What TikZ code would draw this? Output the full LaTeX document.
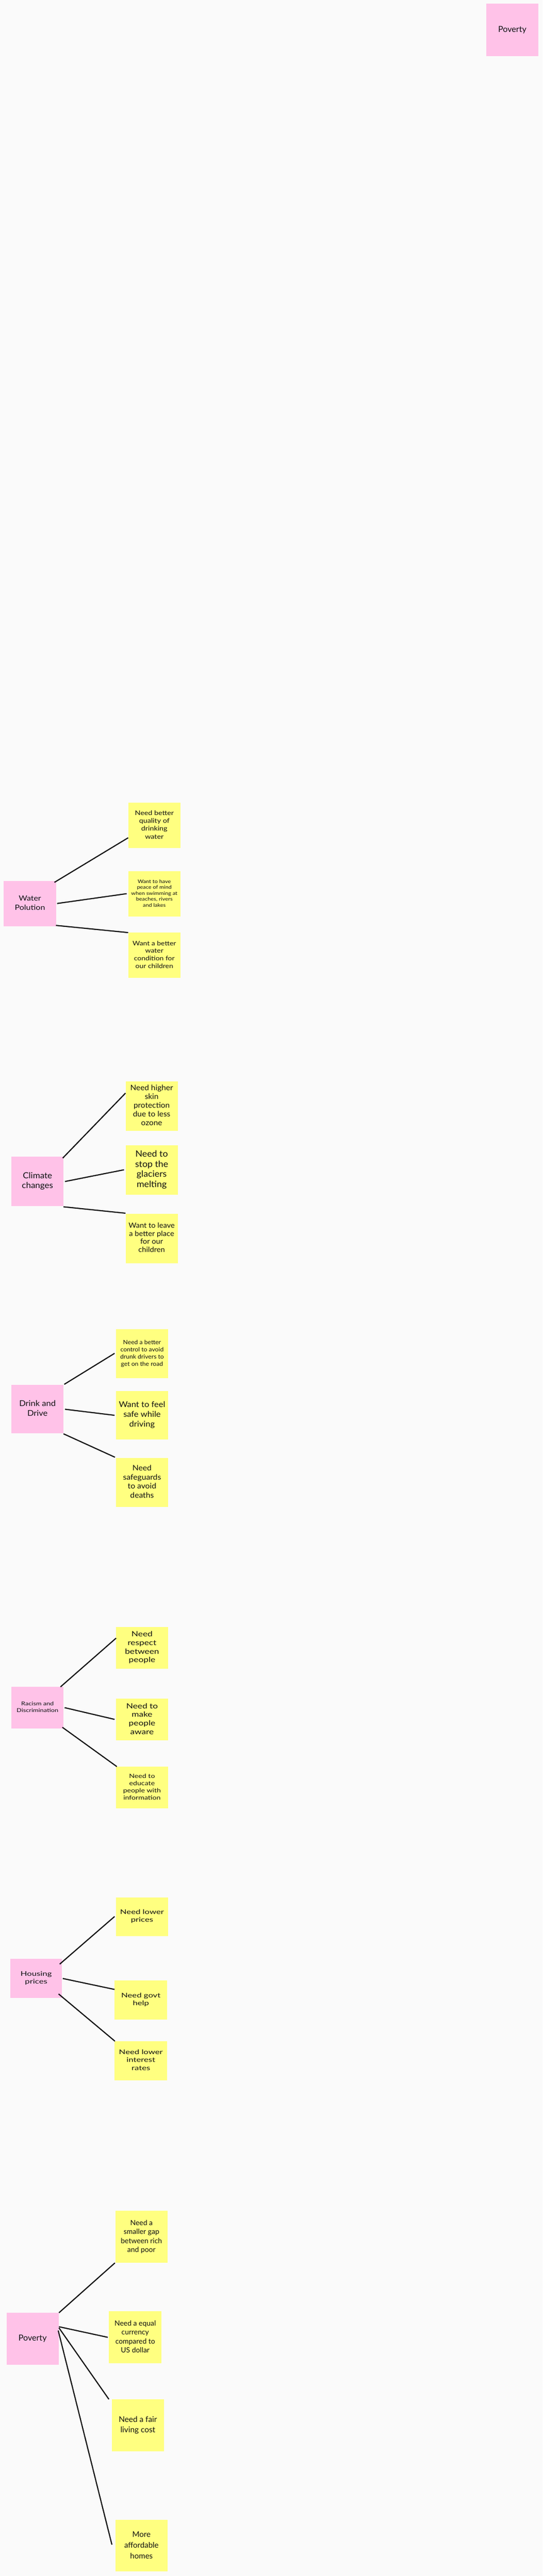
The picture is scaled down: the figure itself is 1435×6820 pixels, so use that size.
\documentclass[tikz,border=0pt]{standalone}
\usepackage{fontspec}
\usepackage{graphicx}
\setmainfont{Lato}
\usetikzlibrary{calc}
\definecolor{bgc}{HTML}{FAFAFA}
\definecolor{pinkc}{HTML}{FFC2E8}
\definecolor{yelc}{HTML}{FFFF80}
\definecolor{inkc}{HTML}{111111}
\newcommand{\myfs}[2]{\fontsize{#1pt}{#2pt}\selectfont}
\newcommand{\sqtext}[2]{\scalebox{1}[#1]{\begin{tabular}{@{}c@{}}#2\end{tabular}}}
\begin{document}
\begin{tikzpicture}[x=1pt,y=-1pt,
  sticky/.style={inner sep=0pt, anchor=north west, align=center, text=inkc},
  pinkbox/.style={sticky, fill=pinkc},
  yelbox/.style={sticky, fill=yelc},
  conn/.style={line width=3pt, draw=inkc}]
\fill[bgc] (0,0) rectangle (1435,6820);
\useasboundingbox (0,0) rectangle (1435,6820);

% top
\node[pinkbox, minimum width=138pt, minimum height=138pt, font=\myfs{22}{27}] (povtop) at (1286,10) {\sqtext{1}{Poverty}};

% Water Polution (s = 0.87)
\node[pinkbox, minimum width=138pt, minimum height=120pt, font=\myfs{21.8}{27.6}] (wp) at (10,2332) {\sqtext{0.87}{Water\\Polution}};
\node[yelbox, minimum width=138pt, minimum height=120pt, font=\myfs{19.5}{24.1}] (w1) at (339,2125) {\sqtext{0.87}{Need better\\quality of\\drinking\\water}};
\node[yelbox, minimum width=138pt, minimum height=120pt, font=\myfs{14.9}{18}] (w2) at (339,2306) {\sqtext{0.87}{Want to have\\peace of mind\\when swimming at\\beaches, rivers\\and lakes}};
\node[yelbox, minimum width=138pt, minimum height=120pt, font=\myfs{19}{23}] (w3) at (339,2469) {\sqtext{0.87}{Want a better\\water\\condition for\\our children}};
\draw[conn] ($(wp.north west)+(134,4)$) -- ($(w1.north west)+(0,93)$);
\draw[conn] ($(wp.north west)+(141,60)$) -- ($(w2.north west)+(-4,60)$);
\draw[conn] ($(wp.north west)+(138,118)$) -- ($(w3.north west)+(0,0)$);

% Climate changes (s = 0.95)
\node[pinkbox, minimum width=138pt, minimum height=131pt, font=\myfs{23.2}{28.4}] (cc) at (30,3062) {\sqtext{0.95}{Climate\\changes}};
\node[yelbox, minimum width=138pt, minimum height=131pt, font=\myfs{21}{24.5}] (c1) at (332,2863) {\sqtext{0.95}{Need higher\\skin\\protection\\due to less\\ozone}};
\node[yelbox, minimum width=138pt, minimum height=131pt, font=\myfs{24.2}{28.4}] (c2) at (332,3032) {\sqtext{0.95}{Need to\\stop the\\glaciers\\melting}};
\node[yelbox, minimum width=138pt, minimum height=131pt, font=\myfs{20}{22.8}] (c3) at (332,3213) {\sqtext{0.95}{Want to leave\\a better place\\for our\\children}};
\draw[conn] ($(cc.north west)+(136,4)$) -- ($(c1.north west)+(0,31)$);
\draw[conn] ($(cc.north west)+(142,66)$) -- ($(c2.north west)+(-4,65)$);
\draw[conn] ($(cc.north west)+(138,133)$) -- ($(c3.north west)+(0,-1)$);

% Drink and Drive (s = 0.935)
\node[pinkbox, minimum width=138pt, minimum height=129pt, font=\myfs{22.5}{27.8}] (dd) at (30,3666) {\sqtext{0.935}{Drink and\\Drive}};
\node[yelbox, minimum width=137pt, minimum height=129pt, font=\myfs{16.6}{20.3}] (d1) at (307,3519) {\sqtext{0.935}{Need a better\\control to avoid\\drunk drivers to\\get on the road}};
\node[yelbox, minimum width=137pt, minimum height=129pt, font=\myfs{22.5}{27.8}] (d2) at (307,3682) {\sqtext{0.935}{Want to feel\\safe while\\driving}};
\node[yelbox, minimum width=137pt, minimum height=129pt, font=\myfs{21.4}{26}] (d3) at (307,3860) {\sqtext{0.935}{Need\\safeguards\\to avoid\\deaths}};
\draw[conn] ($(dd.north west)+(140,-1)$) -- ($(d1.north west)+(-4,64)$);
\draw[conn] ($(dd.north west)+(142,65)$) -- ($(d2.north west)+(-4,65)$);
\draw[conn] ($(dd.north west)+(138,130)$) -- ($(d3.north west)+(-3,-2)$);

% Racism and Discrimination (s = 0.804)
\node[pinkbox, minimum width=138pt, minimum height=111pt, font=\myfs{17.4}{21.5}] (rd) at (30,4465) {\sqtext{0.804}{Racism and\\Discrimination}};
\node[yelbox, minimum width=137pt, minimum height=111pt, font=\myfs{23.6}{28.2}] (r1) at (307,4307) {\sqtext{0.804}{Need\\respect\\between\\people}};
\node[yelbox, minimum width=137pt, minimum height=111pt, font=\myfs{23.6}{28.2}] (r2) at (307,4497) {\sqtext{0.804}{Need to\\make\\people\\aware}};
\node[yelbox, minimum width=137pt, minimum height=111pt, font=\myfs{19.3}{24}] (r3) at (307,4677) {\sqtext{0.804}{Need to\\educate\\people with\\information}};
\draw[conn] ($(rd.north west)+(130,1)$) -- ($(r1.north west)+(0,30)$);
\draw[conn] ($(rd.north west)+(141,56)$) -- ($(r2.north west)+(-4,55)$);
\draw[conn] ($(rd.north west)+(135,108)$) -- ($(r3.north west)+(2,0)$);

% Housing prices (s = 0.746)
\node[pinkbox, minimum width=137pt, minimum height=103pt, font=\myfs{22.8}{28.2}] (hp) at (27,5186) {\sqtext{0.746}{Housing\\prices}};
\node[yelbox, minimum width=137pt, minimum height=102pt, font=\myfs{22.8}{28.2}] (h1) at (307,5023) {\sqtext{0.746}{Need lower\\prices}};
\node[yelbox, minimum width=139pt, minimum height=103pt, font=\myfs{22.8}{28.2}] (h2) at (303,5243) {\sqtext{0.746}{Need govt\\help}};
\node[yelbox, minimum width=139pt, minimum height=103pt, font=\myfs{22.8}{28.2}] (h3) at (303,5404) {\sqtext{0.746}{Need lower\\interest\\rates}};
\draw[conn] ($(hp.north west)+(131,14)$) -- ($(h1.north west)+(-4,51)$);
\draw[conn] ($(hp.north west)+(139,52)$) -- ($(h2.north west)+(0,24)$);
\draw[conn] ($(hp.north west)+(128,93)$) -- ($(h3.north west)+(1,0)$);

% Poverty
\node[pinkbox, minimum width=138pt, minimum height=138pt, font=\myfs{22}{27}] (pv) at (17,6123) {\sqtext{1}{Poverty}};
\node[yelbox, minimum width=138pt, minimum height=138pt, font=\myfs{19}{23.7}] (p1) at (305,5853) {\sqtext{1}{Need a\\smaller gap\\between rich\\and poor}};
\node[yelbox, minimum width=139pt, minimum height=138pt, font=\myfs{19}{23.7}] (p2) at (288,6119) {\sqtext{1}{Need a equal\\currency\\compared to\\US dollar}};
\node[yelbox, minimum width=137pt, minimum height=138pt, font=\myfs{21}{27.7}] (p3) at (296,6352) {\sqtext{1}{Need a fair\\living cost}};
\node[yelbox, minimum width=138pt, minimum height=137pt, font=\myfs{20.5}{28.3}] (p4) at (305,6671) {\sqtext{1}{More\\affordable\\homes}};
\draw[conn] ($(pv.north west)+(139,0)$) -- ($(p1.north west)+(-1,138)$);
\draw[conn] ($(pv.north west)+(139,37)$) -- ($(p2.north west)+(-3,69)$);
\draw[conn] ($(pv.north west)+(139,40)$) -- ($(p3.north west)+(-8,0)$);
\draw[conn] ($(pv.north west)+(137,47)$) -- ($(p4.north west)+(-9,66)$);
\end{tikzpicture}
\end{document}
